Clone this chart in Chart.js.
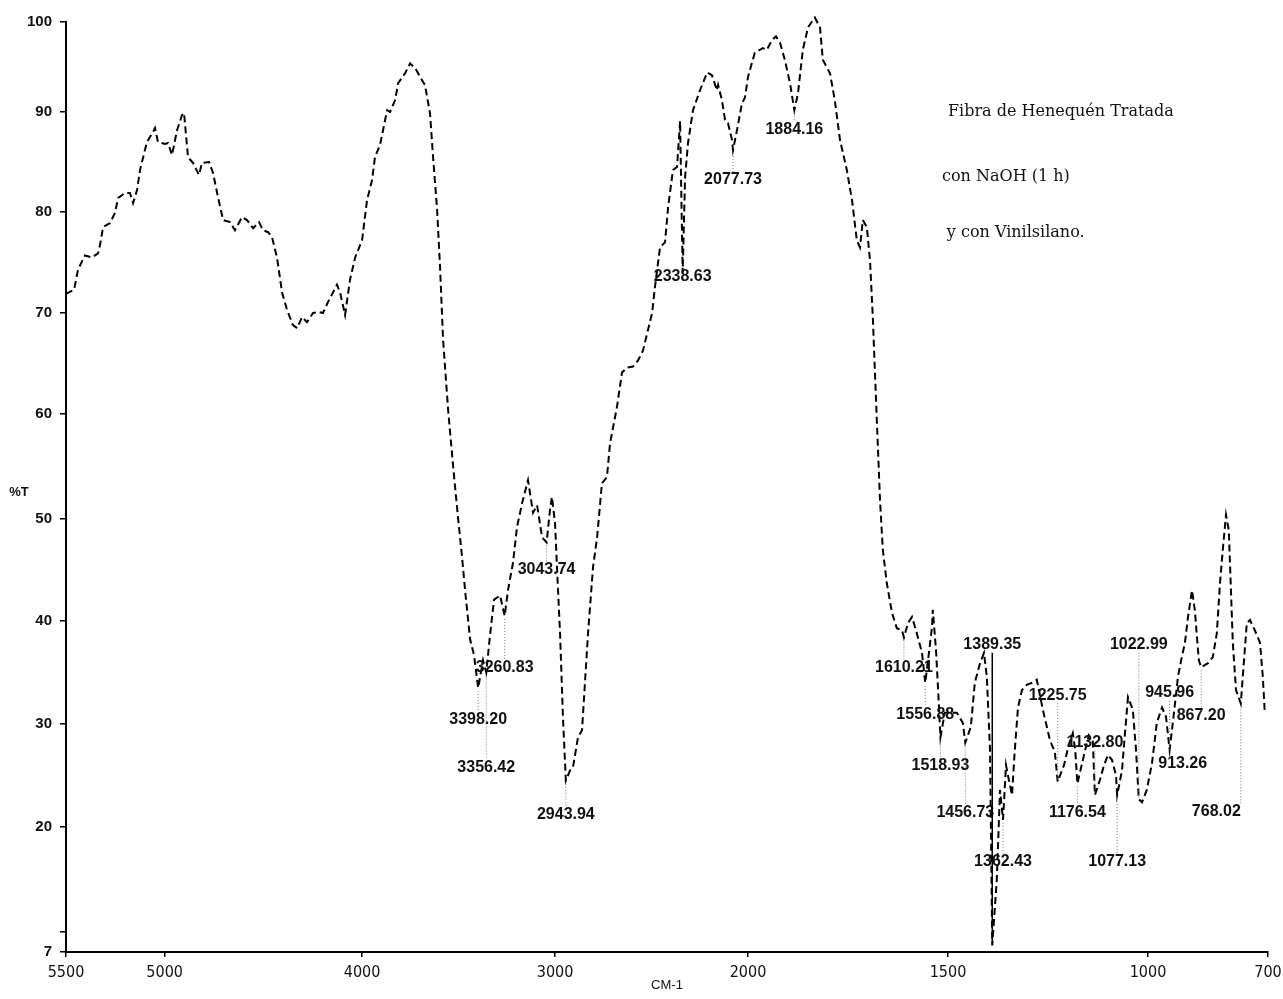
<!DOCTYPE html>
<html>
<head>
<meta charset="utf-8">
<title>Espectro IR</title>
<script src="https://cdn.jsdelivr.net/npm/chart.js@4.4.1/dist/chart.umd.min.js"></script>
<style>
  html, body { margin: 0; padding: 0; background: #fff; }
  #wrap { width: 1283px; height: 999px; position: relative; }
</style>
</head>
<body>
<div id="wrap"><canvas id="spectrum"></canvas></div>
<script>
// Wavenumber (cm-1) and transmittance (%T) of the recorded spectrum
const wavenumbers = [
  5500, 5459, 5439, 5404, 5368, 5338, 5328, 5312, 5277, 5252, 5236, 5201, 5176, 5160, 5140, 5125,
  5090, 5059, 5049, 5034, 4998, 4983, 4963, 4937, 4912, 4902, 4882, 4856, 4826, 4811, 4775, 4755,
  4730, 4704, 4669, 4644, 4608, 4583, 4552, 4522, 4502, 4476, 4456, 4431, 4405, 4380, 4350, 4329,
  4304, 4279, 4248, 4223, 4198, 4172, 4127, 4111, 4086, 4061, 4035, 4000, 3974, 3948, 3933, 3907,
  3870, 3855, 3829, 3813, 3777, 3751, 3725, 3699, 3674, 3648, 3632, 3611, 3596, 3580, 3554, 3528,
  3503, 3482, 3466, 3440, 3420, 3398.2, 3373, 3356.42, 3337, 3316, 3285, 3260.83, 3244, 3218, 3197,
  3171, 3140, 3114, 3093, 3067, 3043.74, 3026, 3016, 3000, 2990, 2974, 2959, 2943.94, 2922, 2907,
  2881, 2860, 2845, 2829, 2803, 2782, 2757, 2731, 2715, 2679, 2653, 2627, 2596, 2570, 2544, 2497,
  2482, 2456, 2430, 2414, 2389, 2368, 2363, 2352, 2338.63, 2326, 2311, 2285, 2249, 2212, 2187, 2161,
  2155, 2135, 2119, 2104, 2083, 2077.73, 2057, 2031, 2016, 2000, 1983, 1963, 1953, 1940, 1930, 1920,
  1908, 1895, 1884.16, 1875, 1863, 1850, 1833, 1820, 1813, 1795, 1783, 1770, 1753, 1740, 1728, 1720,
  1713, 1703, 1695, 1688, 1680, 1670, 1663, 1653, 1640, 1628, 1615, 1610.21, 1600, 1590, 1578, 1565,
  1556.88, 1550, 1540, 1538, 1530, 1523, 1518.93, 1508, 1495, 1478, 1463, 1456.73, 1443, 1433, 1420,
  1410, 1403, 1395, 1389.35, 1378, 1370, 1362.43, 1355, 1348, 1340, 1333, 1325, 1315, 1303, 1290,
  1278, 1263, 1245, 1233, 1225.75, 1210, 1198, 1188, 1182, 1176.54, 1160, 1148, 1138, 1132.8, 1120,
  1110, 1100, 1090, 1080, 1077.13, 1065, 1058, 1050, 1038, 1030, 1022.99, 1015, 1003, 990, 978, 965,
  955, 945.96, 938, 925, 915, 908, 900, 890, 883, 873, 867.2, 850, 838, 828, 820, 813, 805, 798, 788,
  780, 768.02, 753, 745, 733, 720, 713, 708
];
const transmittance = [
  71.9, 72.3, 74.3, 75.7, 75.5, 75.9, 76.7, 78.5, 78.9, 79.9, 81.4, 81.9, 81.9, 80.9, 82.2, 84.2,
  87.0, 88.0, 88.4, 87.0, 86.8, 86.9, 85.7, 88.2, 89.7, 89.9, 85.5, 84.9, 83.7, 84.9, 85.0, 83.9,
  81.5, 79.2, 79.0, 78.2, 79.5, 79.2, 78.4, 79.0, 78.2, 78.0, 77.5, 75.5, 72.0, 70.3, 68.8, 68.5,
  69.6, 69.1, 70.0, 70.1, 70.0, 71.1, 72.8, 72.0, 69.8, 73.3, 75.5, 77.2, 81.2, 83.2, 85.5, 86.7,
  90.2, 90.0, 91.3, 93.2, 94.3, 95.4, 94.9, 93.9, 93.0, 89.9, 85.5, 80.2, 74.6, 67.3, 60.4, 55.0,
  50.2, 46.3, 43.0, 38.2, 36.7, 33.5, 36.2, 35.0, 38.6, 42.1, 42.5, 40.5, 43.0, 45.7, 49.2,
  51.5, 53.7, 50.6, 51.3, 48.2, 47.7, 50.9, 52.1, 49.6, 45.3, 38.8, 30.7, 24.5, 25.5, 25.8,
  28.7, 29.4, 34.0, 38.8, 45.3, 48.2, 53.4, 54.0, 57.2, 60.7, 64.1, 64.6, 64.7, 65.3, 66.3, 70.0,
  72.6, 76.5, 77.0, 80.5, 84.2, 84.5, 85.9, 89.1, 74.0, 83.5, 86.9, 90.2, 92.4, 94.4, 94.1, 92.4,
  93.0, 91.3, 89.2, 88.9, 87.2, 86.2, 88.2, 91.0, 91.6, 93.9, 96.6, 97.1, 96.9, 98.0, 98.4, 97.7,
  95.8, 93.2, 90.2, 92.1, 96.9, 99.4, 100.5, 99.4, 95.8, 94.3, 91.3, 87.2, 84.2, 81.2, 77.2, 76.5,
  79.2, 78.5, 75.2, 69.6, 61.4, 51.8, 47.0, 43.7, 40.8, 39.3, 39.1, 38.4, 39.8, 40.4, 38.8, 36.9,
  34.0, 36.2, 39.4, 41.1, 37.2, 32.0, 28.7, 31.1, 31.1, 31.1, 30.1, 28.2, 29.7, 34.0, 35.9,
  36.9, 34.6, 27.5, 8.0, 15.0, 23.6, 20.7, 26.0, 24.6, 23.1, 27.5, 31.6, 33.3, 33.8, 34.0,
  34.3, 31.4, 28.4, 27.3, 24.4, 26.0, 28.0, 29.1, 27.5, 24.2, 27.0, 28.9, 28.4, 23.1, 24.6,
  26.0, 27.0, 26.5, 25.0, 23.1, 25.5, 28.9, 32.6, 31.4, 27.5, 22.7, 22.4, 23.6, 26.2, 30.1, 31.6,
  30.7, 27.5, 30.1, 34.6, 36.6, 37.8, 40.4, 43.0, 41.1, 36.2, 35.5, 35.9, 36.5, 38.8, 43.7, 47.0, 50.4, 48.9, 37.9,
  33.3, 32.0, 39.8, 40.1, 39.1, 37.9, 34.6, 31.1
];

// Axis ticks
const xTickValues = [5500, 5000, 4000, 3000, 2000, 1500, 1000, 700];
const yTickValues = [100, 90, 80, 70, 60, 50, 40, 30, 20, 10, 7];
const yTickLabels = ['100', '90', '80', '70', '60', '50', '40', '30', '20', '', '7'];

// Band positions printed on the spectrum and the %T level of each printed value
const peakWavenumbers = [3398.2, 3356.42, 3260.83, 3043.74, 2943.94, 2338.63, 2077.73, 1884.16,
  1610.21, 1556.88, 1518.93, 1456.73, 1389.35, 1362.43, 1225.75, 1176.54, 1132.8, 1077.13,
  1022.99, 945.96, 913.26, 867.2, 768.02];
const peakLabelLevels = [30.4, 25.8, 35.5, 45.0, 21.2, 73.6, 83.2, 88.2,
  35.5, 30.9, 26.0, 21.4, 37.7, 16.7, 32.8, 21.4, 28.2, 16.7,
  37.7, 33.0, 26.2, 30.8, 21.5];
const rightAlignedPeaks = [768.02];
const solidLeaderPeaks = [1389.35];

const sampleNote = ['Fibra de Henequén Tratada', 'con NaOH (1 h)', 'y con Vinilsilano.'];
const noteAnchorWavenumbers = [1500, 1515, 1503];
const noteAnchorLevels = [90, 83.5, 77.9];

// Piecewise linear scale: the wavenumber axis doubles its scale below 2000 cm-1,
// and the %T axis follows the spacing of its printed grid.
const scaleBreaks = {
  x: { values: [700, 2000, 4000, 5500], fractions: [0, 0.4326, 0.7537, 1] },
  y: { values: [7, 10, 20, 30, 40, 50, 60, 70, 80, 90, 100],
       fractions: [0, 0.0215, 0.1344, 0.2452, 0.3559, 0.4656, 0.5785, 0.6871, 0.7957, 0.9032, 1] }
};

function interp(v, from, to) {
  let i = 1;
  while (i < from.length - 1 && v > from[i]) i++;
  const a = from[i - 1], b = from[i];
  return to[i - 1] + (v - a) * (to[i] - to[i - 1]) / (b - a);
}

class BrokenLinearScale extends Chart.LinearScale {
  static id = 'brokenLinear';
  getPixelForValue(value) {
    if (value === null || value === undefined || isNaN(value)) return NaN;
    const b = scaleBreaks[this.id];
    return this.getPixelForDecimal(interp(value, b.values, b.fractions));
  }
  getValueForPixel(pixel) {
    const b = scaleBreaks[this.id];
    return interp(this.getDecimalForPixel(pixel), b.fractions, b.values);
  }
}
Chart.register(BrokenLinearScale);

const annotations = {
  id: 'spectrumAnnotations',
  afterDatasetsDraw(chart) {
    const { ctx, scales: { x, y }, chartArea } = chart;
    ctx.save();

    // band labels with their leaders
    ctx.font = 'bold 16px "Liberation Sans", Arial, sans-serif';
    ctx.textBaseline = 'middle';
    peakWavenumbers.forEach((wn, i) => {
      const px = x.getPixelForValue(wn);
      const ly = y.getPixelForValue(peakLabelLevels[i]);
      const k = wavenumbers.indexOf(wn);
      if (k >= 0) {
        const cy = y.getPixelForValue(transmittance[k]);
        const solid = solidLeaderPeaks.includes(wn);
        ctx.beginPath();
        ctx.setLineDash(solid ? [] : [1, 2]);
        ctx.lineWidth = solid ? 1.5 : 1;
        ctx.strokeStyle = solid ? '#000' : '#777';
        if (ly > cy + 12) { ctx.moveTo(px, cy + 3); ctx.lineTo(px, ly - 8); }
        else if (ly < cy - 12) { ctx.moveTo(px, ly + 8); ctx.lineTo(px, cy); }
        ctx.stroke();
      }
      ctx.setLineDash([]);
      ctx.fillStyle = '#111';
      ctx.textAlign = rightAlignedPeaks.includes(wn) ? 'right' : 'center';
      ctx.fillText(wn.toFixed(2), px, ly);
    });

    // sample description
    ctx.font = '16px "DejaVu Serif", "Liberation Serif", serif';
    ctx.textAlign = 'left';
    ctx.fillStyle = '#111';
    sampleNote.forEach((line, i) => {
      ctx.fillText(line, x.getPixelForValue(noteAnchorWavenumbers[i]), y.getPixelForValue(noteAnchorLevels[i]));
    });

    // y axis caption, written horizontally
    ctx.font = 'bold 13px "Liberation Sans", Arial, sans-serif';
    ctx.textAlign = 'center';
    ctx.fillText('%T', 19, (chartArea.top + chartArea.bottom) / 2 + 5);
    ctx.restore();
  }
};

new Chart(document.getElementById('spectrum'), {
  type: 'line',
  data: {
    datasets: [{
      data: wavenumbers.map((w, i) => ({ x: w, y: transmittance[i] })),
      borderColor: '#000',
      borderWidth: 2,
      borderDash: [7, 4],
      pointRadius: 0,
      tension: 0,
      fill: false,
      clip: false
    }]
  },
  options: {
    responsive: true,
    maintainAspectRatio: false,
    animation: false,
    devicePixelRatio: 1,
    layout: { padding: { top: 22, right: 15, bottom: 0, left: 0 } },
    plugins: { legend: { display: false }, tooltip: { enabled: false } },
    scales: {
      x: {
        type: 'brokenLinear',
        min: 700,
        max: 5500,
        reverse: true,
        afterFit: s => { s.height = 47; s.paddingLeft = 0; s.paddingRight = 0; },
        afterBuildTicks: s => { s.ticks = xTickValues.map(v => ({ value: v })); },
        grid: { drawOnChartArea: false, color: '#000', lineWidth: 1.5, tickLength: 5 },
        border: { color: '#000', width: 2 },
        ticks: {
          autoSkip: false, maxRotation: 0, padding: 6, color: '#111',
          font: { family: '"Liberation Sans Narrow", "DejaVu Sans Condensed", sans-serif', size: 16 },
          callback: v => String(v)
        },
        title: {
          display: true, text: 'CM-1', color: '#111',
          font: { family: '"Liberation Sans Narrow", "Liberation Sans", sans-serif', size: 13 },
          padding: { top: 0, bottom: 6 }
        }
      },
      y: {
        type: 'brokenLinear',
        min: 7,
        max: 100,
        afterFit: s => { s.width = 66; s.paddingTop = 0; s.paddingBottom = 0; },
        afterBuildTicks: s => { s.ticks = yTickValues.map(v => ({ value: v })); },
        grid: { drawOnChartArea: false, color: '#000', lineWidth: 1.5, tickLength: 6 },
        border: { color: '#000', width: 2 },
        ticks: {
          autoSkip: false, padding: 8, color: '#111',
          font: { family: '"Liberation Sans", Arial, sans-serif', size: 15, weight: 'bold' },
          callback: v => yTickLabels[yTickValues.indexOf(v)]
        }
      }
    }
  },
  plugins: [annotations]
});
</script>
</body>
</html>
